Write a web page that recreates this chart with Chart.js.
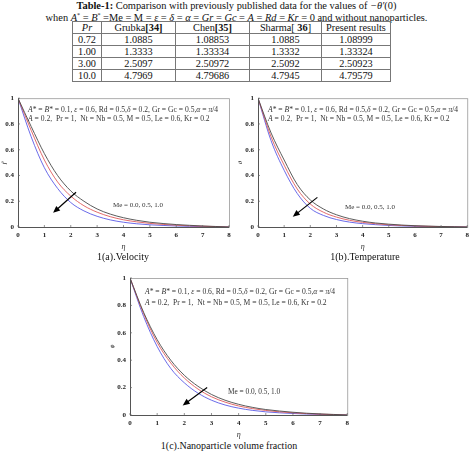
<!DOCTYPE html>
<html><head><meta charset="utf-8">
<script src="https://cdn.jsdelivr.net/npm/chart.js@4/dist/chart.umd.min.js"></script>
<style>
body{margin:0;width:473px;height:456px;background:#fff;position:relative;overflow:hidden;font-family:"Liberation Serif","DejaVu Serif",serif;color:#111}
.t{position:absolute;left:0;width:473px;text-align:center;font-size:10.4px;line-height:11px;white-space:nowrap}
table{position:absolute;left:72px;top:21px;border-collapse:collapse;font-size:10.3px;table-layout:fixed}
td,th{border:1px solid #777;height:11.1px;line-height:10px;padding:0;text-align:center;font-weight:normal}
canvas{position:absolute}
.cap{position:absolute;font-size:10px;line-height:12px;white-space:nowrap;transform:translateX(-50%)}
</style></head>
<body>
<div class="t" style="top:0px"><b>Table-1:</b> Comparison with previously published data for the values of <i>−θ′</i>(0)</div>
<div class="t" style="top:10px">when <i>A</i><sup style="font-size:6px">*</sup> = <i>B</i><sup style="font-size:6px">*</sup> =Me = M = <i>ε</i> = <i>δ</i> = <i>α</i> = <i>Gr</i> = <i>Gc</i> = <i>A</i> = <i>Rd</i> = <i>Kr</i> = 0 and without nanoparticles.</div>
<table id="tbl"></table>
<canvas id="c1" style="left:0;top:90px" width="236" height="162"></canvas>
<canvas id="c2" style="left:236px;top:90px" width="237" height="162"></canvas>
<canvas id="c3" style="left:108px;top:268px" width="245" height="172"></canvas>
<div class="cap" style="left:123px;top:251px">1(a).Velocity</div>
<div class="cap" style="left:365px;top:251px">1(b).Temperature</div>
<div class="cap" style="left:229px;top:440px">1(c).Nanoparticle volume fraction</div>
<script>
// ---- table data ----
const tableHeaders = ['<i>Pr</i>','Grubka<b>[34]</b>','Chen<b>[35]</b>','Sharma[ <b>36</b>]','Present results'];
const prValues = ['0.72','1.00','3.00','10.0'];
const grubka = ['1.0885','1.3333','2.5097','4.7969'];
const chen = ['1.08853','1.33334','2.50972','4.79686'];
const sharma = ['1.0885','1.3332','2.5092','4.7945'];
const present = ['1.08999','1.33324','2.50923','4.79579'];

// ---- chart data ----
const eta = [0,0.5,1,1.5,2,2.5,3,3.5,4,4.5,5,5.5,6,6.5,7,7.5,8];
const meLabels = ['Me = 0.0','Me = 0.5','Me = 1.0'];
const velMe00 = [1,0.78,0.57,0.40,0.28,0.2,0.14,0.1,0.072,0.052,0.037,0.027,0.019,0.013,0.008,0.004,0];
const velMe05 = [1,0.75,0.52,0.35,0.24,0.165,0.115,0.08,0.056,0.04,0.028,0.02,0.014,0.009,0.006,0.003,0];
const velMe10 = [1,0.70,0.46,0.30,0.19,0.125,0.083,0.055,0.037,0.025,0.017,0.012,0.008,0.005,0.003,0.001,0];
const tempMe00 = [1,0.73,0.52,0.33,0.21,0.14,0.095,0.065,0.045,0.031,0.022,0.015,0.01,0.007,0.004,0.002,0];
const tempMe05 = [1,0.70,0.48,0.295,0.178,0.115,0.077,0.052,0.036,0.025,0.017,0.012,0.008,0.005,0.003,0.001,0];
const tempMe10 = [1,0.67,0.44,0.26,0.145,0.09,0.058,0.038,0.026,0.018,0.012,0.008,0.005,0.003,0.002,0.001,0];
const nanoMe00 = [1,0.75,0.55,0.40,0.29,0.21,0.15,0.108,0.078,0.056,0.04,0.029,0.02,0.013,0.008,0.004,0];
const nanoMe05 = [1,0.74,0.53,0.38,0.27,0.19,0.133,0.094,0.066,0.047,0.033,0.023,0.016,0.01,0.006,0.003,0];
const nanoMe10 = [1,0.72,0.50,0.34,0.235,0.16,0.108,0.073,0.05,0.034,0.023,0.016,0.011,0.007,0.004,0.002,0];
const xTickValues = [0,1,2,3,4,5,6,7,8];
const yTickValues = [0,0.2,0.4,0.6,0.8,1];
const lineColors = ['#4a4a4a','#e05a5a','#5a5ae6'];

// build table
(function(){
  const colW=[28,73,73,71,68];
  let h='<tr>'+tableHeaders.map((t,i)=>`<td style="width:${colW[i]}px">${t}</td>`).join('')+'</tr>';
  prValues.forEach((p,i)=>{h+=`<tr><td>${p}</td><td>${grubka[i]}</td><td>${chen[i]}</td><td>${sharma[i]}</td><td>${present[i]}</td></tr>`;});
  document.getElementById('tbl').innerHTML=h;
})();

const paramLine1=[['A',1],['* = ',0],['B',1],['* = 0.1, ',0],['ε',1],[' = 0.6, Rd = 0.5,',0],['δ',1],[' = 0.2, Gr = Gc = 0.5,',0],['α',1],[' = ',0],['π',1],['/4',0]];
const paramLine2=[['A',1],[' = 0.2,  Pr = 1,  Nt = Nb = 0.5, M = 0.5, Le = 0.6, Kr = 0.2',0]];

function drawSegs(ctx,segs,x,y,size){
  for(const [t,it] of segs){
    ctx.font=(it?'italic ':'')+size+'px "Liberation Serif", serif';
    ctx.fillText(t,x,y);
    x+=ctx.measureText(t).width;
  }
}

const decor={
  id:'decor',
  afterDatasetsDraw(chart){
    const o=chart.options.plugins.decor; const ctx=chart.ctx; const a=chart.chartArea;
    const xs=chart.scales.x, ys=chart.scales.y;
    ctx.save();
    ctx.strokeStyle='#999';ctx.lineWidth=0.8;
    ctx.strokeRect(a.left+0.5,a.top+0.5,a.right-a.left,a.bottom-a.top);
    ctx.strokeStyle='#555';ctx.lineWidth=1;
    ctx.beginPath();ctx.moveTo(a.left+0.5,a.top);ctx.lineTo(a.left+0.5,a.bottom+0.5);ctx.lineTo(a.right,a.bottom+0.5);ctx.stroke();
    ctx.strokeStyle='#666';ctx.lineWidth=0.7;ctx.beginPath();
    yTickValues.forEach(v=>{const p=ys.getPixelForValue(v);ctx.moveTo(a.left,p);ctx.lineTo(a.left+2,p);});
    xTickValues.forEach(v=>{const p=xs.getPixelForValue(v);ctx.moveTo(p,a.bottom);ctx.lineTo(p,a.bottom-2);});
    ctx.stroke();
    ctx.fillStyle='#333';ctx.textBaseline='middle';ctx.textAlign='left';
    drawSegs(ctx,paramLine1,a.left+o.tx,a.top+o.ty1,o.fs);
    drawSegs(ctx,paramLine2,a.left+o.tx,a.top+o.ty2,o.fs);
    ctx.font=o.ms+'px "Liberation Serif", serif';
    ctx.fillText(meLabels.map(s=>s.replace('Me = ','')).reduce((s,v,i)=>s+(i?', ':'')+v,'Me = '),a.left+o.mx,a.top+o.my);
    const x1=xs.getPixelForValue(o.arrow[0]),y1=ys.getPixelForValue(o.arrow[1]);
    const x2=xs.getPixelForValue(o.arrow[2]),y2=ys.getPixelForValue(o.arrow[3]);
    ctx.strokeStyle='#000';ctx.fillStyle='#000';ctx.lineWidth=1.2;
    const ang=Math.atan2(y2-y1,x2-x1);
    ctx.beginPath();ctx.moveTo(x1,y1);ctx.lineTo(x2-5*Math.cos(ang),y2-5*Math.sin(ang));ctx.stroke();
    ctx.beginPath();ctx.moveTo(x2,y2);
    ctx.lineTo(x2-7*Math.cos(ang)+3*Math.sin(ang),y2-7*Math.sin(ang)-3*Math.cos(ang));
    ctx.lineTo(x2-7*Math.cos(ang)-3*Math.sin(ang),y2-7*Math.sin(ang)+3*Math.cos(ang));
    ctx.closePath();ctx.fill();
    ctx.restore();
  }
};

function makeChart(id,series,cfg){
  const tickFont={family:'"Liberation Serif", serif',size:7,weight:'bold'};
  new Chart(document.getElementById(id),{
    type:'line',
    data:{datasets:series.map((s,i)=>({label:meLabels[i],data:eta.map((e,j)=>({x:e,y:s[j]})),borderColor:lineColors[i],borderWidth:0.9,pointRadius:0,fill:false,cubicInterpolationMode:'monotone'}))},
    options:{
      responsive:false,animation:false,
      layout:{padding:{top:cfg.pt,right:cfg.pr,left:0,bottom:0}},
      plugins:{legend:{display:false},tooltip:{enabled:false},decor:cfg.decor},
      scales:{
        x:{type:'linear',min:0,max:8,grid:{display:false,drawTicks:false},border:{display:false},
          afterBuildTicks:s=>{s.ticks=xTickValues.map(v=>({value:v}));},
          ticks:{font:tickFont,color:'#222',padding:4,maxRotation:0,autoSkip:false,callback:v=>String(v)},
          title:{display:true,text:'η',font:{family:'"Liberation Serif", serif',size:8,style:'italic'},color:'#333',padding:0},
          afterFit:s=>{s.height=cfg.xh;}},
        y:{type:'linear',min:0,max:1,grid:{display:false,drawTicks:false},border:{display:false},
          afterBuildTicks:s=>{s.ticks=yTickValues.map(v=>({value:v}));},
          ticks:{font:tickFont,color:'#222',padding:4,autoSkip:false,callback:v=>(v===0||v===1)?String(v):v.toFixed(1)},
          title:{display:true,text:cfg.ytitle,font:{family:'"Liberation Serif", serif',size:7,style:'italic'},color:'#333',padding:0},
          afterFit:s=>{s.width=cfg.yw;}}
      }
    },
    plugins:[decor]
  });
}

makeChart('c1',[velMe00,velMe05,velMe10],{pt:8,pr:7,xh:25,yw:18,ytitle:'f′',
  decor:{tx:10,ty1:12,ty2:21,fs:7.6,ms:7,mx:95,my:107,arrow:[2.2,0.27,1.33,0.11]}});
makeChart('c2',[tempMe00,tempMe05,tempMe10],{pt:8,pr:5,xh:25,yw:22,ytitle:'θ',
  decor:{tx:10,ty1:12,ty2:21,fs:7.6,ms:7,mx:87,my:109,arrow:[2.27,0.23,1.33,0.08]}});
makeChart('c3',[nanoMe00,nanoMe05,nanoMe10],{pt:10,pr:4,xh:25,yw:22,ytitle:'ϕ',
  decor:{tx:15,ty1:14,ty2:25,fs:7.6,ms:7.3,mx:98,my:114,arrow:[2.84,0.2,1.94,0.07]}});
</script>
</body></html>
